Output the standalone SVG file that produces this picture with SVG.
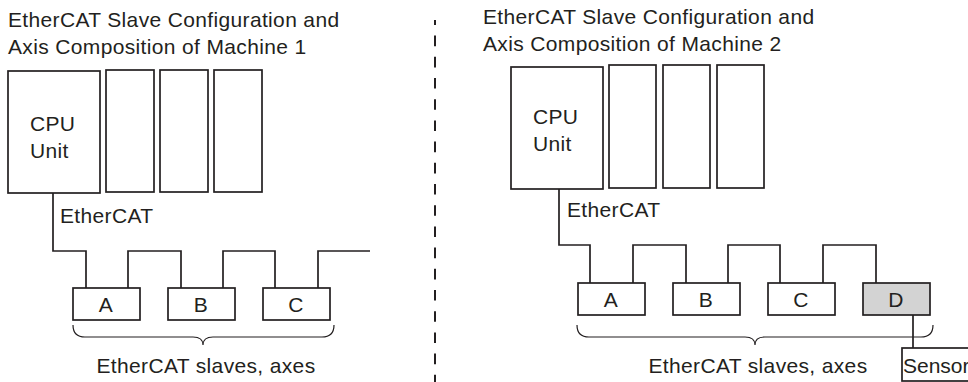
<svg xmlns="http://www.w3.org/2000/svg" width="968" height="382" viewBox="0 0 968 382">
<style>
text{font-family:"Liberation Sans",Arial,sans-serif;font-size:21px;fill:#231f20;letter-spacing:0.35px}
.c{text-anchor:middle}
.box{fill:#fff;stroke:#231f20;stroke-width:1.7}
.gray{fill:#d3d3d3}
.ln{fill:none;stroke:#231f20;stroke-width:1.7}
.br{fill:none;stroke:#231f20;stroke-width:1.2}
</style>
<rect width="968" height="382" fill="#fff"/>
<g id="title1"><text x="8" y="27">EtherCAT Slave Configuration and</text><text x="8" y="54">Axis Composition of Machine 1</text></g>
<g id="title2"><text x="483" y="24">EtherCAT Slave Configuration and</text><text x="483" y="51">Axis Composition of Machine 2</text></g>
<line id="divider" x1="435" y1="20" x2="435" y2="382" stroke="#231f20" stroke-width="2" stroke-dasharray="10.6 10.6" stroke-dashoffset="5.6"/>
<g id="connectors">
<path class="ln" d="M53,193V251H86V288M128,288V251H181V288M223,288V251H275V288M318,288V251H370"/>
<path class="ln" d="M559,189V245H590V283M633,283V245H686V283M728,283V245H780V283M823,283V245H876V283M913,315V348"/>
</g>
<g id="m1-cpu"><rect class="box" x="8" y="71" width="92" height="122"/><text x="30" y="131">CPU</text><text x="30" y="158">Unit</text></g>
<g id="m1-u1"><rect class="box" x="106" y="70" width="48" height="122"/></g>
<g id="m1-u2"><rect class="box" x="160" y="70" width="48" height="122"/></g>
<g id="m1-u3"><rect class="box" x="214" y="70" width="48" height="122"/></g>
<g id="m1-ethercat"><text x="60" y="223">EtherCAT</text></g>
<g id="m1-A"><rect class="box" x="73" y="288" width="67" height="32"/><text class="c" x="106" y="312">A</text></g>
<g id="m1-B"><rect class="box" x="168" y="288" width="67" height="32"/><text class="c" x="201" y="312">B</text></g>
<g id="m1-C"><rect class="box" x="263" y="288" width="67" height="32"/><text class="c" x="296" y="312">C</text></g>
<g id="m1-brace"><path class="br" d="M73,325Q73,337 85,337H193Q203,337 203,345Q203,337 213,337H322Q334,337 334,325"/><text class="c" x="206" y="373">EtherCAT slaves, axes</text></g>
<g id="m2-cpu"><rect class="box" x="511" y="67" width="92" height="122"/><text x="533" y="124">CPU</text><text x="533" y="151">Unit</text></g>
<g id="m2-u1"><rect class="box" x="609" y="65" width="47" height="123"/></g>
<g id="m2-u2"><rect class="box" x="663" y="65" width="47" height="123"/></g>
<g id="m2-u3"><rect class="box" x="717" y="65" width="47" height="123"/></g>
<g id="m2-ethercat"><text x="567" y="217">EtherCAT</text></g>
<g id="m2-A"><rect class="box" x="578" y="283" width="67" height="32"/><text class="c" x="611" y="307">A</text></g>
<g id="m2-B"><rect class="box" x="673" y="283" width="67" height="32"/><text class="c" x="706" y="307">B</text></g>
<g id="m2-C"><rect class="box" x="768" y="283" width="67" height="32"/><text class="c" x="801" y="307">C</text></g>
<g id="m2-D"><rect class="box gray" x="863" y="283" width="67" height="32"/><text class="c" x="896" y="307">D</text></g>
<g id="m2-brace"><path class="br" d="M577,325Q577,337 589,337H745Q755,337 755,345Q755,337 765,337H921Q933,337 933,325"/><text class="c" x="758" y="373">EtherCAT slaves, axes</text></g>
<g id="m2-sensor"><rect class="box" x="902" y="348" width="80" height="33"/><text x="903" y="373" style="letter-spacing:0">Sensor</text></g>
</svg>
